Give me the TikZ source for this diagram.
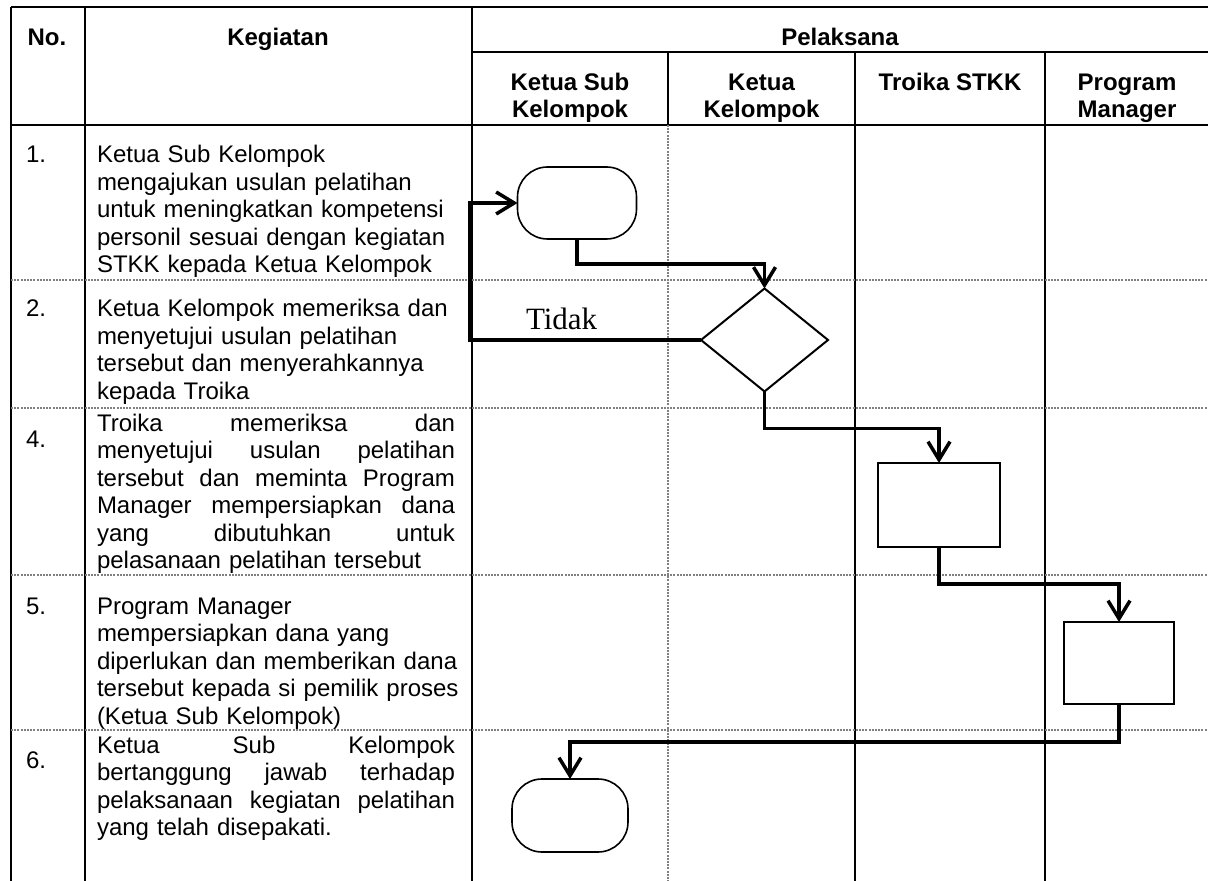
\documentclass[tikz,border=0pt]{standalone}
\usepackage{fontspec}
\setmainfont{Liberation Sans}
\newfontfamily\tnr{Liberation Serif}
\usetikzlibrary{arrows.meta,shapes.geometric}
\newlength\kegw
\setlength\kegw{179pt}
\newcommand\jl[1]{\makebox[\kegw][s]{#1}}

\begin{document}
\begin{tikzpicture}[x=0.5pt, y=-0.5pt,
    every node/.style={inner sep=0pt, outer sep=0pt},
    teks/.style={font=\fontsize{12pt}{13.75pt}\selectfont},
    judul/.style={font=\fontsize{12pt}{13.75pt}\selectfont\bfseries, align=center, anchor=base},
    nomor/.style={teks, anchor=base west},
    kegiatan/.style={teks, anchor=base west, text width=182pt, align=left},
    garis/.style={line width=1pt},
    titik/.style={gray, line width=0.6pt, dash pattern=on 1pt off 0.6pt},
    terminal/.style={draw, line width=0.8pt, rounded corners=15pt},
    keputusan/.style={draw, diamond, line width=1pt, minimum width=63.5pt, minimum height=51.5pt},
    proses/.style={draw, rectangle, line width=1.2pt},
    alur/.style={line width=1.75pt, -{Straight Barb[length=9pt, width=11pt]}}]
  \useasboundingbox (0,0) rectangle (1208,881);

  % kerangka tabel
  \draw[garis] (11,7) -- (1208,7);
  \draw[garis] (472,52) -- (1208,52);
  \draw[garis] (11,125) -- (1208,125);
  \foreach \x in {11,85,472}
    \draw[garis] (\x,7) -- (\x,881);
  \foreach \x in {855,1045}
    \draw[garis] (\x,52) -- (\x,881);
  \draw[garis] (668,52) -- (668,125);
  \draw[titik] (668,125) -- (668,881);
  \foreach \y in {280,408,575,730}
    \draw[titik] (11,\y) -- (1208,\y);

  % kepala tabel
  \node[judul] (hno) at (47,46) {No.};
  \node[judul] (hkeg) at (278,46) {Kegiatan};
  \node[judul] (hpel) at (840,46) {Pelaksana};
  \node[judul] (hsub) at (570,118) {Ketua Sub\\Kelompok};
  \node[judul] (hkel) at (761.5,118) {Ketua\\Kelompok};
  \node[judul] (htro) at (950,90.5) {Troika STKK};
  \node[judul] (hpm) at (1127,118) {Program\\Manager};

  % nomor dan kegiatan
  \node[nomor] (n1) at (26,163) {1.};
  \node[nomor] (n2) at (26,317) {2.};
  \node[nomor] (n4) at (26,447) {4.};
  \node[nomor] (n5) at (26,614) {5.};
  \node[nomor] (n6) at (26,768) {6.};

  \node[kegiatan] (k1) at (97,163) {Ketua Sub Kelompok\\
    mengajukan usulan pelatihan\\
    untuk meningkatkan kompetensi\\
    personil sesuai dengan kegiatan\\
    STKK kepada Ketua Kelompok};
  \node[kegiatan] (k2) at (97,317) {Ketua Kelompok memeriksa dan\\
    menyetujui usulan pelatihan\\
    tersebut dan menyerahkannya\\
    kepada Troika};
  \node[kegiatan] (k4) at (97,431) {\jl{Troika\hfill memeriksa\hfill dan}\\
    \jl{menyetujui\hfill usulan\hfill pelatihan}\\
    \jl{tersebut\hfill dan\hfill meminta\hfill Program}\\
    \jl{Manager\hfill mempersiapkan\hfill dana}\\
    \jl{yang\hfill dibutuhkan\hfill untuk}\\
    pelasanaan pelatihan tersebut};
  \node[kegiatan] (k5) at (97,614) {Program Manager\\
    mempersiapkan dana yang\\
    diperlukan dan memberikan dana\\
    tersebut kepada si pemilik proses\\
    (Ketua Sub Kelompok)};
  \node[kegiatan] (k6) at (97,753) {\jl{Ketua\hfill Sub\hfill Kelompok}\\
    \jl{bertanggung\hfill jawab\hfill terhadap}\\
    \jl{pelaksanaan\hfill kegiatan\hfill pelatihan}\\
    yang telah disepakati.};

  % bagan alir
  \node[terminal, minimum width=59.5pt, minimum height=36pt] (mulai) at (577,203) {};
  \node[keputusan] (periksa) at (764.5,340) {};
  \node[proses, minimum width=61pt, minimum height=42pt] (troika) at (939,505) {};
  \node[proses, minimum width=55pt, minimum height=41pt] (dana) at (1119,663) {};
  \node[terminal, minimum width=58pt, minimum height=36.5pt] (selesai) at (570,815.5) {};

  \draw[alur] (mulai.south) -- ++(0,25) -| (periksa.north);
  \draw[alur] (periksa.west) -- ++(-231,0) |- (mulai.west);
  \node[font=\tnr\fontsize{15.5pt}{18pt}\selectfont, anchor=base west] (tidak) at (526,330) {Tidak};
  \draw[alur] (periksa.south) -- ++(0,37) -| (troika.north);
  \draw[alur] (troika.south) -- ++(0,37) -| (dana.north);
  \draw[alur] (dana.south) -- ++(0,38) -| (selesai.north);
\end{tikzpicture}
\end{document}
